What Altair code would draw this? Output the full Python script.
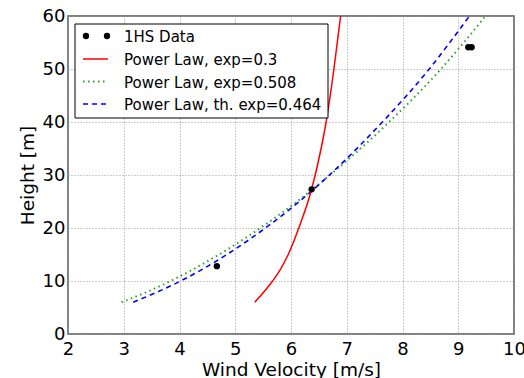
import altair as alt
import pandas as pd

# Measured data points
data_v = [4.67, 6.37, 9.18, 9.24]
data_z = [12.8, 27.3, 54.1, 54.1]

# Power law, exp=0.3 (red)
red_z = [6, 8, 10, 12, 15, 20, 27.3, 35, 40, 50, 60]
red_v = [5.35, 5.52, 5.67, 5.80, 5.95, 6.14, 6.37, 6.54, 6.63, 6.77, 6.89]

# Power law, exp=0.508 (green dotted)
green_z = [6, 8, 10, 15, 20, 25, 30, 40, 50, 60]
green_v = [2.96, 3.43, 3.84, 4.71, 5.45, 6.11, 6.70, 7.76, 8.69, 9.49]

# Power law, th. exp=0.464 (blue dashed)
blue_z = [6, 8, 10, 15, 20, 25, 30, 40, 50, 60]
blue_v = [3.17, 3.62, 4.02, 4.85, 5.54, 6.15, 6.69, 7.64, 8.48, 9.20]

legend_labels = ["1HS Data", "Power Law, exp=0.3", "Power Law, exp=0.508",
                 "Power Law, th. exp=0.464"]

FONT = "DejaVu Sans"
PADL, PADT = 68, 16

xs = alt.Scale(domain=[2, 10], nice=False, zero=False)
ys = alt.Scale(domain=[0, 60], nice=False, zero=False)

xax = alt.Axis(values=list(range(2, 11)), title="Wind Velocity [m/s]", labelPadding=6,
               titlePadding=2, labelFlush=False, labelOverlap=False, labelBound=False)
yax = alt.Axis(values=list(range(0, 61, 10)), title="Height [m]", labelPadding=3,
               titlePadding=5, labelFlush=False, labelOverlap=False, labelBound=False)


def curve(zs, vs, color, dash, width=1.5):
    df = pd.DataFrame({"v": vs, "z": zs, "o": list(range(len(zs)))})
    kw = dict(color=color, strokeWidth=width, clip=True, interpolate="monotone")
    if dash:
        kw["strokeDash"] = dash
    return alt.Chart(df).mark_line(**kw).encode(
        x=alt.X("v:Q", scale=xs, axis=xax),
        y=alt.Y("z:Q", scale=ys, axis=yax),
        order="o:Q",
    )


red = curve(red_z, red_v, "#ff0000", None)
green = curve(green_z, green_v, "#2ca02c", [1.5, 3.5], 2)
blue = curve(blue_z, blue_v, "#0000ff", [5, 4], 1.6)

pts = alt.Chart(pd.DataFrame({"v": data_v, "z": data_z})).mark_circle(
    color="black", size=40, opacity=1
).encode(x=alt.X("v:Q", scale=xs, axis=xax), y=alt.Y("z:Q", scale=ys, axis=yax))

# Manual legend (matplotlib style); positions are relative to the plot origin
one = pd.DataFrame({"a": [0]})
box = alt.Chart(one).mark_rect(
    fill="white", stroke="black", strokeWidth=1
).encode(x=alt.value(75 - PADL), x2=alt.value(328 - PADL),
         y=alt.value(24 - PADT), y2=alt.value(118 - PADT))

row_y = [36, 59, 81.5, 104]
leg = [box]
for xp in (86, 107):
    leg.append(alt.Chart(one).mark_circle(color="black", size=40, opacity=1).encode(
        x=alt.value(xp - PADL), y=alt.value(row_y[0] - PADT)))
specs = [("#ff0000", None, 1.5), ("#2ca02c", [1.5, 3.5], 2), ("#0000ff", [5, 4], 1.6)]
for (col, dash, w), yy in zip(specs, row_y[1:]):
    kw = dict(color=col, strokeWidth=w)
    if dash:
        kw["strokeDash"] = dash
    leg.append(alt.Chart(one).mark_rule(**kw).encode(
        x=alt.value(83 - PADL), x2=alt.value(108 - PADL), y=alt.value(yy - PADT)))
for lab, yy in zip(legend_labels, row_y):
    leg.append(alt.Chart(one).mark_text(
        align="left", baseline="middle", font=FONT, fontSize=15, color="black"
    ).encode(x=alt.value(124 - PADL), y=alt.value(yy + 1 - PADT), text=alt.value(lab)))

chart = alt.layer(green, blue, red, pts, *leg).properties(
    width=446, height=318,
    background="white",
    autosize=alt.AutoSizeParams(type="none"),
    padding={"left": PADL, "top": PADT, "right": 10, "bottom": 44},
).configure_view(
    stroke="#555555", strokeWidth=1.5
).configure_axis(
    labelFont=FONT, titleFont=FONT, labelFontSize=18, titleFontSize=18.5,
    titleFontWeight="normal", labelColor="black", titleColor="black",
    domain=False, ticks=False, grid=True, gridColor="#999999",
    gridDash=[1, 2], gridWidth=1, gridOpacity=1
)

chart.save("out.html", embed_options={"renderer": "svg", "actions": False})
